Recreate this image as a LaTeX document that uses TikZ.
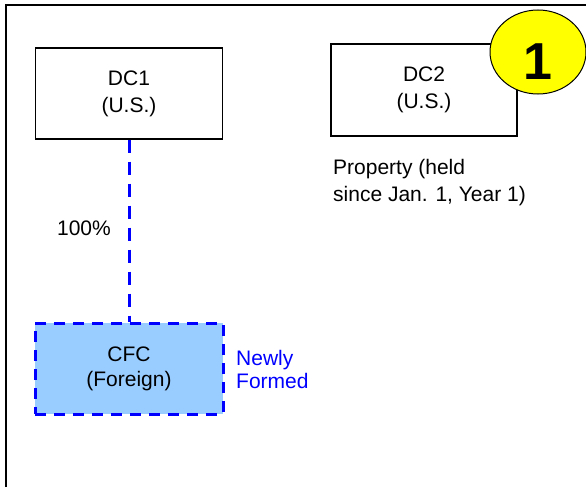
\documentclass[tikz,border=0pt]{standalone}
\usepackage{fontspec}
\setmainfont{Liberation Sans}
\usepackage{tikz}
\usetikzlibrary{shapes.geometric}
\definecolor{ownblue}{RGB}{0,0,255}
\definecolor{newfill}{RGB}{153,204,255}
\definecolor{markyellow}{RGB}{255,255,0}

\begin{document}
\begin{tikzpicture}[x=1pt,y=-1pt]
      \tikzstyle{corp}=[rectangle,draw,line width=1.2pt,inner sep=0pt,align=center,
        minimum width=187pt,minimum height=91pt,font=\fontsize{21}{27}\selectfont]
      \tikzstyle{newcorp}=[corp,fill=newfill,draw=ownblue,line width=3pt,
        dash pattern=on 11pt off 8pt,font=\fontsize{21}{25}\selectfont]
      \tikzstyle{txt}=[inner sep=0pt,align=left,font=\fontsize{21}{27}\selectfont]
      \useasboundingbox (0,0) rectangle (586,487);
      \draw[line width=2pt] (6,487) -- (6,5) -- (587,5);
      \node[corp] at (129,93.5) (dc1) {DC1\\(U.S.)};
      \node[corp,minimum width=186pt,minimum height=92pt] at (424,90) (dc2) {DC2\\(U.S.)};
      \node[newcorp,minimum width=188pt] at (129,368.5) (cfc) {CFC\\(Foreign)};
      \node[ellipse,draw,fill=markyellow,line width=1pt,minimum width=96pt,minimum height=84pt,
        inner sep=0pt,text height=55pt,text depth=0pt,font=\fontsize{52}{52}\selectfont\bfseries]
        at (538,52) (one) {1};
      \node[txt,anchor=west] at (333,183) (prop) {Property (held\\since Jan. 1, Year 1)};
      \node[txt,anchor=base] at (84,235) (pct) {100\%};
      \node[txt,anchor=west,text=ownblue,font=\fontsize{21}{23}\selectfont] at (236,369) (newly)
        {Newly\\Formed};
      \draw[ownblue,line width=3pt,dash pattern=on 13pt off 9pt] (dc1) -- (cfc);
    \end{tikzpicture}
\end{document}
